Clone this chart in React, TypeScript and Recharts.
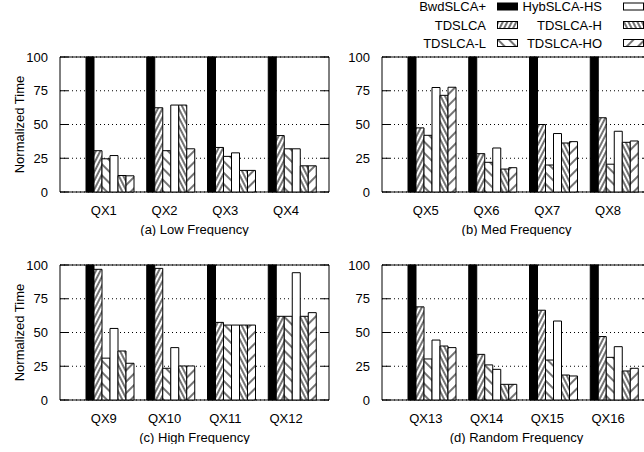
import { Bar, BarChart, CartesianGrid, XAxis, YAxis } from 'recharts';

const FONT = '"Liberation Sans", Arial, Helvetica, sans-serif';

// one entry per query, QX1..QX16 (4 per panel)
const QUERIES = [
  'QX1', 'QX2', 'QX3', 'QX4',
  'QX5', 'QX6', 'QX7', 'QX8',
  'QX9', 'QX10', 'QX11', 'QX12',
  'QX13', 'QX14', 'QX15', 'QX16',
];

const BWD_SLCA = [100, 100, 100, 100, 100, 100, 100, 100, 100, 100, 100, 100, 100, 100, 100, 100];
const TD_SLCA = [30.6, 62.4, 33, 41.8, 47.5, 28.4, 50, 55, 96.8, 97.5, 57.5, 62, 69, 33.8, 66.5, 47];
const TD_SLCA_L = [24.6, 30.6, 26.4, 32, 42, 22, 20, 20.6, 31, 23.5, 55.5, 62, 30.4, 26, 29.6, 31.6];
const HYB_SLCA_HS = [27, 64.4, 29, 32, 77.4, 32.6, 43.3, 45, 53, 38.8, 55.5, 94.3, 44.4, 22.7, 58.5, 39.5];
const TD_SLCA_H = [12.2, 64.4, 16, 19.4, 71.6, 17, 36.3, 36.8, 36.3, 25.2, 55.5, 62, 40, 11.6, 18.5, 21.5];
const TD_SLCA_HO = [12, 32, 16, 19.4, 77.6, 18, 37.3, 37.8, 27.2, 25.2, 55.5, 64.7, 38.8, 11.6, 17.8, 23.5];

const Y_TICKS = [0, 25, 50, 75, 100];

const PANEL_TITLES = ['(a) Low Frequency', '(b) Med Frequency', '(c) High Frequency', '(d) Random Frequency'];

// bar order inside a group (gnuplot fills the key column by column)
const SERIES = [
  { key: 'bwd', name: 'BwdSLCA+', values: BWD_SLCA },
  { key: 'td', name: 'TDSLCA', values: TD_SLCA },
  { key: 'tdL', name: 'TDSLCA-L', values: TD_SLCA_L },
  { key: 'hyb', name: 'HybSLCA-HS', values: HYB_SLCA_HS },
  { key: 'tdH', name: 'TDSLCA-H', values: TD_SLCA_H },
  { key: 'tdHO', name: 'TDSLCA-HO', values: TD_SLCA_HO },
];

const FILLS: Record<string, string> = {
  bwd: '#000',
  td: 'url(#hatchDenseFwd)',
  tdL: 'url(#hatchSparseBack)',
  hyb: '#fff',
  tdH: 'url(#hatchDenseBack)',
  tdHO: 'url(#hatchSparseFwd)',
};

const CHART_W = 340;
const CHART_H = 236;
const MARGIN = { top: 57, right: 11, bottom: 0, left: 0 };
const Y_AXIS_W = 60;
const PLOT_W = CHART_W - MARGIN.right - Y_AXIS_W;

function Patterns() {
  const hatch = (id: string, size: number, angle: number) => (
    <pattern
      id={id}
      patternUnits="userSpaceOnUse"
      width={size}
      height={20}
      patternTransform={`rotate(${angle})`}
    >
      <rect width={size} height={20} fill="#fff" />
      <line x1={size / 2} y1={0} x2={size / 2} y2={20} stroke="#000" strokeWidth={1.1} />
    </pattern>
  );
  return (
    <svg width={0} height={0} style={{ position: 'absolute' }}>
      <defs>
        {hatch('hatchDenseFwd', 4, 27)}
        {hatch('hatchDenseBack', 4, -27)}
        {hatch('hatchSparseFwd', 8, 45)}
        {hatch('hatchSparseBack', 8, -45)}
      </defs>
    </svg>
  );
}

function YTick(props: any) {
  const { x, y, payload } = props;
  const ax = x + 12;
  return (
    <g>
      <line x1={ax} x2={ax + 8} y1={y} y2={y} stroke="#000" />
      <line x1={ax + PLOT_W - 8} x2={ax + PLOT_W} y1={y} y2={y} stroke="#000" />
      <text x={x} y={y} dy="0.35em" textAnchor="end" fontSize={13} fontFamily={FONT} fill="#000">
        {payload.value}
      </text>
    </g>
  );
}

function XTick(props: any) {
  const { x, y, payload } = props;
  return (
    <text x={x - 5} y={y} dy="0.71em" textAnchor="middle" fontSize={13} fontFamily={FONT} fill="#000">
      {payload.value}
    </text>
  );
}

function Panel({ index, left, top }: { index: number; left: number; top: number }) {
  const start = index * 4;
  const data = QUERIES.slice(start, start + 4).map((q, i) => {
    const row: Record<string, any> = { name: q };
    SERIES.forEach((s) => {
      row[s.key] = s.values[start + i];
    });
    return row;
  });
  const showYLabel = index % 2 === 0;

  return (
    <div style={{ position: 'absolute', left, top }}>
      <BarChart
        width={CHART_W}
        height={CHART_H}
        data={data}
        margin={MARGIN}
        barCategoryGap={7.6}
        barGap={0}
      >
        <CartesianGrid vertical={false} stroke="#000" strokeDasharray="1 3" />
        <CartesianGrid
          stroke="#000"
          horizontalCoordinatesGenerator={({ offset }: any) => [offset.top, offset.top + offset.height]}
          verticalCoordinatesGenerator={({ offset }: any) => [offset.left, offset.left + offset.width]}
        />
        <XAxis
          dataKey="name"
          axisLine={false}
          tickLine={false}
          tickSize={0}
          tickMargin={14}
          height={44}
          interval={0}
          padding={{ left: 18.4, right: 7.6 }}
          tick={<XTick />}
          label={{
            value: PANEL_TITLES[index],
            position: 'insideBottom',
            offset: 2,
            style: { fontSize: 13, fontFamily: FONT, fill: '#000' },
          }}
        />
        <YAxis
          domain={[0, 100]}
          ticks={Y_TICKS}
          interval={0}
          width={Y_AXIS_W}
          axisLine={false}
          tickLine={false}
          tickSize={0}
          tickMargin={12}
          tick={<YTick />}
          label={
            showYLabel
              ? {
                  value: 'Normalized Time',
                  angle: -90,
                  position: 'insideLeft',
                  offset: 19,
                  style: { textAnchor: 'middle', fontSize: 13, fontFamily: FONT, fill: '#000' },
                }
              : undefined
          }
        />
        {SERIES.map((s) => (
          <Bar
            key={s.key}
            dataKey={s.key}
            name={s.name}
            fill={FILLS[s.key]}
            stroke="#000"
            strokeWidth={1}
            isAnimationActive={false}
          />
        ))}
      </BarChart>
    </div>
  );
}

function KeyBox() {
  // two columns, filled top to bottom like the gnuplot key
  const cols = [SERIES.slice(0, 3), SERIES.slice(3, 6)];
  const textRight = [486, 602];
  const boxLeft = [497, 623];
  const rows = [6.5, 25, 43];
  return (
    <svg width={644} height={52} style={{ position: 'absolute', left: 0, top: 0 }}>
      {cols.map((col, c) =>
        col.map((s, r) => (
          <g key={s.key}>
            <text
              x={textRight[c]}
              y={rows[r]}
              dy="0.35em"
              textAnchor="end"
              fontSize={13}
              fontFamily={FONT}
              fill="#000"
            >
              {s.name}
            </text>
            <rect
              x={boxLeft[c] + 0.5}
              y={rows[r] - 3.5}
              width={20}
              height={7}
              fill={FILLS[s.key]}
              stroke="#000"
              strokeWidth={1}
            />
          </g>
        )),
      )}
    </svg>
  );
}

export default function App() {
  return (
    <div
      style={{
        position: 'absolute',
        left: 0,
        top: 0,
        width: 644,
        height: 452,
        overflow: 'hidden',
        background: '#fff',
        fontFamily: FONT,
      }}
    >
      <Patterns />
      <Panel index={0} left={0} top={0} />
      <Panel index={1} left={322} top={0} />
      <Panel index={2} left={0} top={208} />
      <Panel index={3} left={322} top={208} />
      <KeyBox />
    </div>
  );
}
